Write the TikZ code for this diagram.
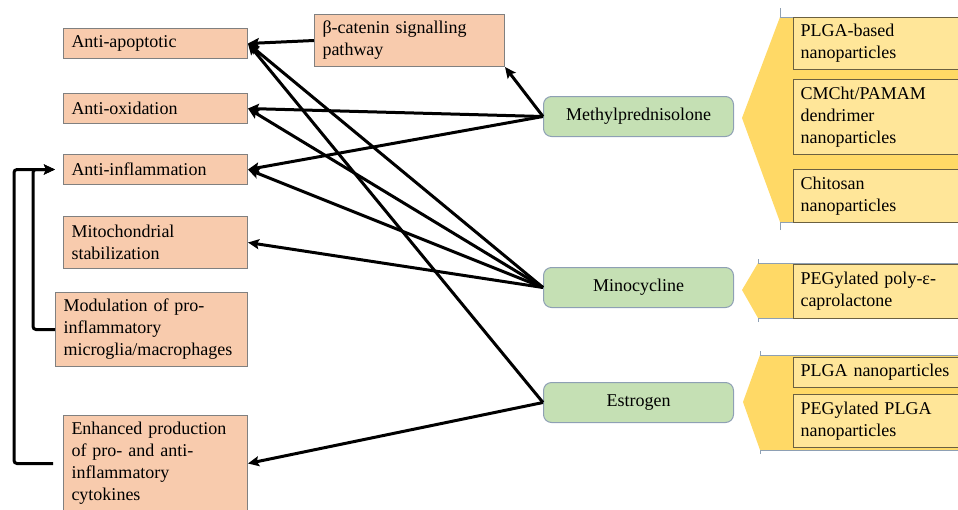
\documentclass[tikz,border=0pt]{standalone}
\usepackage{fontspec}
\setmainfont{Liberation Serif}
\usetikzlibrary{arrows.meta,positioning}
\definecolor{effectfill}{HTML}{F8CBAD}
\definecolor{drugfill}{HTML}{C5E0B4}
\definecolor{drugline}{HTML}{8EA0B4}
\definecolor{carrierfill}{HTML}{FFD966}
\definecolor{nanofill}{HTML}{FFE699}
\definecolor{nanoline}{HTML}{6B6040}

\begin{document}
\begin{tikzpicture}[x=1pt,y=-1pt,
    every node/.style={font=\fontsize{18}{22}\selectfont},
    effect/.style={draw=gray, line width=1pt, fill=effectfill, anchor=north west,
      inner xsep=8pt, inner ysep=3pt, text width=168pt, align=left},
    drug/.style={draw=drugline, line width=1pt, fill=drugfill, rounded corners=8pt,
      anchor=north west, minimum width=190pt, minimum height=40pt},
    nano/.style={draw=nanoline, line width=1pt, fill=nanofill, anchor=north west,
      inner xsep=7pt, text width=168pt, align=left},
    carrier/.style={fill=carrierfill},
    rim/.style={draw=drugline, line width=0.8pt},
    link/.style={-{Stealth[length=11pt,width=10pt,inset=2pt]}, line width=3pt}]
    \useasboundingbox (0,0) rectangle (958,509);
    \clip (0,0) rectangle (958,509);
    %carriers
    \fill[carrier] (742,118) -- (780,17) -- (970,17) -- (970,222) -- (780,222) -- cycle;
    \draw[rim] (780,8) -- (780,17) -- (970,17);
    \draw[rim] (780,230) -- (780,222) -- (970,222);
    \fill[carrier] (742,290) -- (758,263) -- (970,263) -- (970,318) -- (758,318) -- cycle;
    \draw[rim] (758,259) -- (758,263) -- (970,263);
    \draw[rim] (758,322) -- (758,318) -- (970,318);
    \fill[carrier] (743,402) -- (760,355) -- (970,355) -- (970,450) -- (760,450) -- cycle;
    \draw[rim] (760,351) -- (760,355) -- (970,355);
    \draw[rim] (760,454) -- (760,450) -- (970,450);
    \node[nano, minimum height=52pt] (plga) at (793,17) {PLGA-based\\nanoparticles};
    \node[nano, minimum height=75pt] (pamam) at (793,79) {CMCht/PAMAM\\dendrimer\\nanoparticles};
    \node[nano, minimum height=53pt] (chit) at (793,169) {Chitosan\\nanoparticles};
    \node[nano, minimum height=54pt] (pcl) at (793,264) {PEGylated poly-ε-\\caprolactone};
    \node[nano, minimum height=30pt] (plganp) at (793,357) {PLGA nanoparticles};
    \node[nano, minimum height=53pt] (pegplga) at (793,394) {PEGylated PLGA\\nanoparticles};
    %drugs
    \node[drug] (mp) at (543,96) {Methylprednisolone};
    \node[drug] (mino) at (543,267) {Minocycline};
    \node[drug] (estr) at (543,382) {Estrogen};
    %effects
    \node[effect, minimum height=30pt] (apop) at (63,28) {Anti-apoptotic};
    \node[effect, minimum height=30pt] (oxid) at (63,93) {Anti-oxidation};
    \node[effect, minimum height=30pt] (inflam) at (63,154) {Anti-inflammation};
    \node[effect, minimum height=52pt] (mito) at (63,216) {Mitochondrial\\stabilization};
    \node[effect, minimum height=74pt, text width=176pt] (modul) at (55,292)
      {Modulation of pro-\\inflammatory\\microglia/macrophages};
    \node[effect, minimum height=96pt] (enh) at (63,415)
      {Enhanced production\\of pro- and anti-\\inflammatory\\cytokines};
    \node[effect, minimum height=52pt, text width=174pt] (bcat) at (314,14)
      {β-catenin signalling\\pathway};
    %edges
    \path[link]
      (bcat.west) edge (apop.east)
      (mp.west) edge (bcat.south east)
      (mp.west) edge (oxid.east)
      (mp.west) edge (inflam.east)
      (mino.west) edge (apop.east)
      (mino.west) edge (oxid.east)
      (mino.west) edge (inflam.east)
      (mino.west) edge (mito.east)
      (estr.west) edge (apop.east)
      (estr.west) edge (enh.east);
    %feedback
    \coordinate (fbend) at ([xshift=-8pt]inflam.west);
    \draw[link, rounded corners=3pt] ([xshift=-10pt]enh.west) -- ++(-39,0) |- (fbend);
    \draw[link, rounded corners=3pt] (modul.west) -- ++(-22,0) |- (fbend);
\end{tikzpicture}
\end{document}
